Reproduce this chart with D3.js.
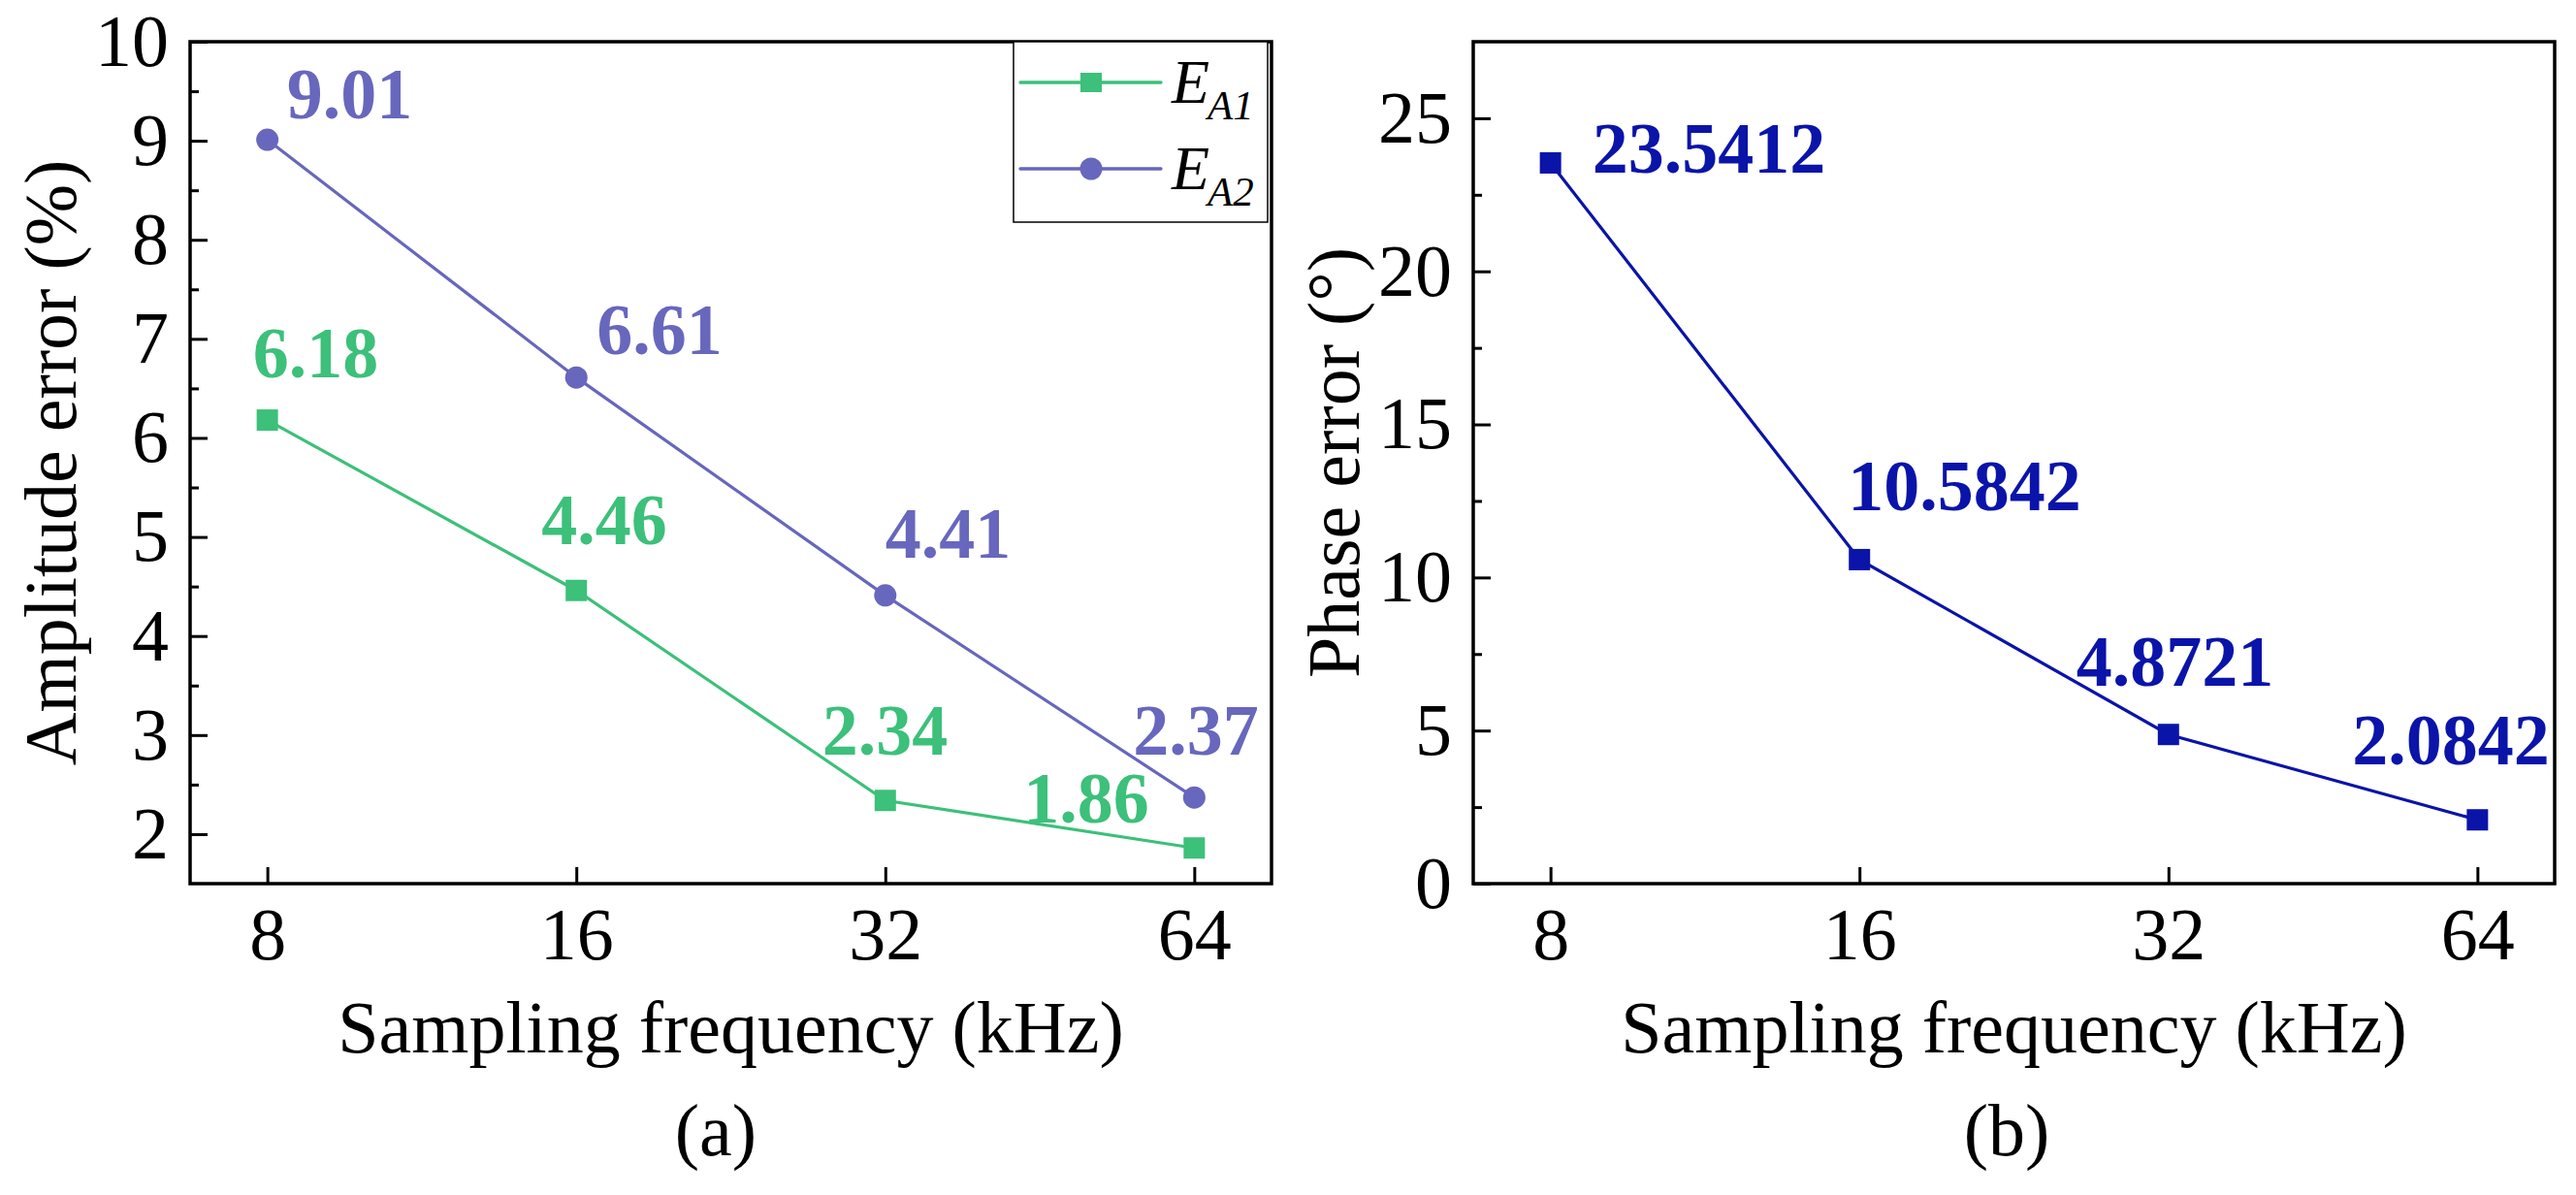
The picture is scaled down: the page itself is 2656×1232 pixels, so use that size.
<!DOCTYPE html>
<html>
<head>
<meta charset="utf-8">
<script src="https://cdn.jsdelivr.net/npm/d3@7"></script>
<style>
  html, body { margin: 0; padding: 0; background: #ffffff; }
  svg { display: block; }
  text { font-family: "Liberation Serif", "Times New Roman", serif; }
</style>
</head>
<body>
<svg id="chart" width="2656" height="1232"></svg>
<script>
// ---------------- data ----------------
const freqs = ["8", "16", "32", "64"];
const ampA1 = [6.18, 4.46, 2.34, 1.86];
const ampA2 = [9.01, 6.61, 4.41, 2.37];
const phaseErr = [23.5412, 10.5842, 4.8721, 2.0842];
const ampTicks = [2, 3, 4, 5, 6, 7, 8, 9, 10];
const ampMinorTicks = [2.5, 3.5, 4.5, 5.5, 6.5, 7.5, 8.5, 9.5];
const phaseTicks = [0, 5, 10, 15, 20, 25];
const phaseMinorTicks = [2.5, 7.5, 12.5, 17.5, 22.5];
const seriesNames = ["A1", "A2"];

// label placement (pixel offsets from marker: text start x, baseline y)
const offA1 = [[-15, -44], [-36, -48], [-65, -47], [-176, -26]];
const offA2 = [[20, -22], [21, -24], [0, -39], [-63, -44]];
const offPh = [[43, 10], [-12, -51], [-95, -50], [-129, -57]];

// ---------------- style ----------------
const green = "#3cc07a";
const purple = "#6767bd";
const blue = "#0a14a8";
const FONT = 76;
const LABEL_FONT = 74;

const svg = d3.select("#chart");
svg.append("rect").attr("width", 2656).attr("height", 1232).attr("fill", "#fff");

function panel(opts) {
  const { left, right, top, bottom, yDomain, yTicks, yMinor, yTitle, caption, captionX } = opts;
  const g = svg.append("g");
  const x = d3.scalePoint().domain(freqs).range([left, right]).padding(0.25);
  const y = d3.scaleLinear().domain(yDomain).range([bottom, top]);

  // minor y ticks
  const minorAxis = d3.axisLeft(y).tickValues(yMinor).tickSize(-9).tickSizeOuter(0).tickFormat("");
  const gm = g.append("g").attr("transform", `translate(${left},0)`).call(minorAxis);
  gm.select(".domain").remove();
  gm.selectAll("line").attr("stroke", "#000").attr("stroke-width", 3);

  // major y ticks
  const yAxis = d3.axisLeft(y).tickValues(yTicks).tickSize(-18).tickSizeOuter(0).tickPadding(22).tickFormat(d3.format("d"));
  const gy = g.append("g").attr("transform", `translate(${left},0)`).call(yAxis);
  gy.select(".domain").remove();
  gy.selectAll("line").attr("stroke", "#000").attr("stroke-width", 3);
  gy.selectAll("text").attr("font-size", FONT).attr("fill", "#000")
    .style("font-family", '"Liberation Serif", "Times New Roman", serif');

  // x axis
  const xAxis = d3.axisBottom(x).tickSize(-17).tickSizeOuter(0).tickPadding(24);
  const gx = g.append("g").attr("transform", `translate(0,${bottom})`).call(xAxis);
  gx.select(".domain").remove();
  gx.selectAll("line").attr("stroke", "#000").attr("stroke-width", 3);
  gx.selectAll("text").attr("font-size", FONT).attr("fill", "#000").attr("dy", "0.71em")
    .style("font-family", '"Liberation Serif", "Times New Roman", serif');

  // frame
  g.append("rect").attr("x", left).attr("y", top).attr("width", right - left).attr("height", bottom - top)
    .attr("fill", "none").attr("stroke", "#000").attr("stroke-width", 3.5);

  // titles
  g.append("text").attr("x", (left + right) / 2).attr("y", 1085).attr("text-anchor", "middle")
    .attr("font-size", FONT).text("Sampling frequency (kHz)");
  g.append("text").attr("transform", `translate(${left - 118},${(top + bottom) / 2}) rotate(-90)`)
    .attr("text-anchor", "middle").attr("font-size", FONT).text(yTitle);
  g.append("text").attr("x", captionX).attr("y", 1191).attr("text-anchor", "middle")
    .attr("font-size", FONT).text(caption);

  return { g, x, y };
}

function series(p, values, color, shape, offsets, fmt) {
  const line = d3.line().x((d, i) => p.x(freqs[i])).y(d => p.y(d));
  p.g.append("path").datum(values).attr("d", line).attr("fill", "none")
    .attr("stroke", color).attr("stroke-width", 3.2);
  const pts = p.g.append("g").selectAll("g").data(values).join("g")
    .attr("transform", (d, i) => `translate(${p.x(freqs[i])},${p.y(d)})`);
  if (shape === "square") {
    pts.append("rect").attr("x", -11).attr("y", -11).attr("width", 22).attr("height", 22).attr("fill", color);
  } else {
    pts.append("circle").attr("r", 11.5).attr("fill", color);
  }
  p.g.append("g").selectAll("text").data(values).join("text")
    .attr("x", (d, i) => p.x(freqs[i]) + offsets[i][0])
    .attr("y", (d, i) => p.y(d) + offsets[i][1])
    .attr("font-size", LABEL_FONT).attr("font-weight", "bold").attr("fill", color)
    .text(d => fmt(d));
}

// ---------------- panel (a) ----------------
const pa = panel({ left: 196, right: 1311, top: 43, bottom: 911, yDomain: [1.5, 10],
  yTicks: ampTicks, yMinor: ampMinorTicks, yTitle: "Amplitude error (%)", caption: "(a)", captionX: 738 });
series(pa, ampA1, green, "square", offA1, d3.format(".2f"));
series(pa, ampA2, purple, "circle", offA2, d3.format(".2f"));

// legend
const lg = pa.g.append("g");
lg.append("rect").attr("x", 1045).attr("y", 43).attr("width", 262).attr("height", 186)
  .attr("fill", "#fff").attr("stroke", "#000").attr("stroke-width", 1.5);
const legendItems = [
  { name: seriesNames[0], color: green, shape: "square", y: 85 },
  { name: seriesNames[1], color: purple, shape: "circle", y: 174 }
];
legendItems.forEach(it => {
  lg.append("line").attr("x1", 1052).attr("x2", 1197).attr("y1", it.y).attr("y2", it.y)
    .attr("stroke", it.color).attr("stroke-width", 3.3).attr("stroke-linecap", "round");
  if (it.shape === "square") {
    lg.append("rect").attr("x", 1114).attr("y", it.y - 10).attr("width", 22).attr("height", 20).attr("fill", it.color);
  } else {
    lg.append("circle").attr("cx", 1125).attr("cy", it.y).attr("r", 11.5).attr("fill", it.color);
  }
  const t = lg.append("text").attr("x", 1208).attr("y", it.y + 21).attr("font-size", 64)
    .attr("font-style", "italic").attr("fill", "#000");
  t.append("tspan").text("E");
  t.append("tspan").attr("dy", 17).attr("dx", -2).attr("font-size", 43).text(it.name);
});

// ---------------- panel (b) ----------------
const pb = panel({ left: 1519, right: 2634, top: 43, bottom: 911, yDomain: [0, 27.5],
  yTicks: phaseTicks, yMinor: phaseMinorTicks, yTitle: "Phase error (°)", caption: "(b)", captionX: 2069 });
series(pb, phaseErr, blue, "square", offPh, d3.format(".4f"));
</script>
</body>
</html>
